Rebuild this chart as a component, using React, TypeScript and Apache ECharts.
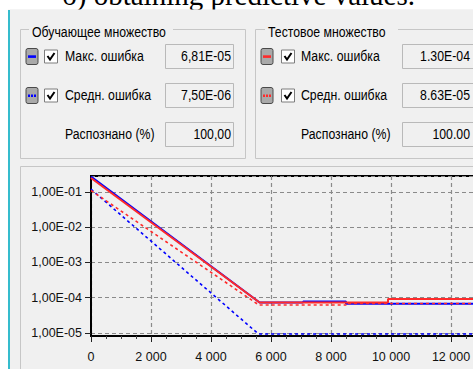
import React, { useEffect, useRef } from "react";
import * as echarts from "echarts";

// ---------- data ----------
const caption = "б) obtaining predictive values.";
const trainTitle = "Обучающее множество";
const testTitle = "Тестовое множество";
const rowLabels = ["Макс. ошибка", "Средн. ошибка", "Распознано (%)"];
const trainValues = ["6,81E-05", "7,50E-06", "100,00"];
const testValues = ["1.30E-04", "8.63E-05", "100.00"];

const xMin = 0;
const xMax = 13700;
const xInterval = 2000;
const yMin = Math.pow(10, -5.085);
const yMax = Math.pow(10, -0.547);

// [iteration, error]
const trainMaxError: [number, number][] = [
  [0, 0.275], [5620, 7.36e-5], [7070, 7.36e-5], [7070, 7.86e-5],
  [8500, 7.86e-5], [8500, 6.81e-5], [13700, 6.81e-5],
];
const trainMeanError: [number, number][] = [
  [0, 0.12], [5580, 9.4e-6], [13700, 9.4e-6],
];
const testMaxError: [number, number][] = [
  [0, 0.25], [5620, 7.36e-5], [9900, 7.36e-5], [9900, 9.2e-5], [13700, 9.2e-5],
];
const testMeanError: [number, number][] = [
  [0, 0.11], [5600, 6.2e-5], [8500, 6.2e-5], [8500, 6.9e-5], [13700, 6.9e-5],
];

const BLUE = "#0000ff";
const RED = "#ff2a2a";
const UI_FONT = "'Liberation Sans', Arial, sans-serif";
const BG = "#f0f0f0";
const SX = 0.82;

function txt(x: number, y: number, text: string, opts: any = {}) {
  const align = opts.align || "left";
  return {
    type: "text",
    x,
    y,
    scaleX: opts.scaleX ?? SX,
    z: opts.z ?? 5,
    style: {
      text,
      fill: opts.fill || "#000",
      fontSize: opts.fontSize || 15,
      fontFamily: opts.fontFamily || UI_FONT,
      align,
      textAlign: align,
      verticalAlign: "middle",
      textVerticalAlign: "middle",
    },
  };
}

function rect(x: number, y: number, w: number, h: number, style: any, z = 3, r = 0) {
  return { type: "rect", z, shape: { x, y, width: w, height: h, r }, style };
}

function icon(x: number, cy: number, color: string, dotted: boolean) {
  const els: any[] = [
    rect(x, cy - 8, 12, 16, { fill: "#a9a9a9", stroke: "#4a4a4a", lineWidth: 1 }, 4, 2),
  ];
  if (dotted) {
    [x + 2.5, x + 5.5, x + 8.5].forEach((dx) =>
      els.push(rect(dx - 0.5, cy - 1, 2, 2.5, { fill: color }, 5))
    );
  } else {
    els.push(rect(x + 2, cy - 1.2, 8, 2.6, { fill: color }, 5));
  }
  return els;
}

function checkbox(x: number, cy: number) {
  return [
    rect(x, cy - 6.5, 13, 13, { fill: "#ffffff", stroke: "#7d7d7d", lineWidth: 1 }, 4),
    {
      type: "polyline",
      z: 5,
      shape: { points: [[x + 3, cy - 0.5], [x + 5.5, cy + 3], [x + 10, cy - 3.5]] },
      style: { stroke: "#000", lineWidth: 2, fill: null },
    },
  ];
}

function groupBox(cfg: any) {
  const rows = [56.5, 95.5, 134.5];
  const els: any[] = [];
  els.push(rect(cfg.frameX, 29.5, cfg.frameW, 129, { fill: null, stroke: "#c6c6c6", lineWidth: 1 }, 2));
  els.push(rect(cfg.titleX - 3, 24, cfg.titleW + 6, 10, { fill: BG }, 3));
  els.push(txt(cfg.titleX, 32, cfg.title));
  rows.forEach((cy, i) => {
    if (i < 2) {
      els.push(...icon(cfg.iconX, cy, cfg.color, i === 1));
      els.push(...checkbox(cfg.checkX, cy));
    }
    els.push(txt(cfg.labelX, cy, rowLabels[i]));
    els.push(rect(cfg.boxX + 0.5, cy - 12, cfg.boxW, 24, { fill: BG, stroke: "#b9b9b9", lineWidth: 1 }, 3));
    els.push(txt(cfg.valueRight, cy, cfg.values[i], { align: "right" }));
  });
  return els;
}

function buildGraphics() {
  const els: any[] = [];
  els.push(rect(0, 0, 473, 9.5, { fill: "#ffffff" }, 0));
  els.push(rect(0, 0, 8, 369, { fill: "#ffffff" }, 0));
  els.push(rect(8, 10, 2, 359, { fill: "#35bccd" }, 1));
  els.push({
    type: "text",
    x: 62,
    y: -5,
    z: 1,
    style: {
      text: caption,
      fill: "#000",
      fontSize: 29,
      fontFamily: "'Liberation Serif', 'Times New Roman', serif",
      align: "left",
      textAlign: "left",
      verticalAlign: "middle",
      textVerticalAlign: "middle",
    },
  });
  els.push(rect(10, 9.5, 463, 12, { fill: BG }, 2));
  els.push(
    ...groupBox({
      frameX: 20.5, frameW: 225, titleX: 32, titleW: 138, title: trainTitle,
      iconX: 26, checkX: 44.5, labelX: 65, boxX: 165, boxW: 68, valueRight: 231,
      values: trainValues, color: BLUE,
    })
  );
  els.push(
    ...groupBox({
      frameX: 255.5, frameW: 240, titleX: 268, titleW: 127, title: testTitle,
      iconX: 261, checkX: 281.5, labelX: 301, boxX: 402, boxW: 72, valueRight: 470,
      values: testValues, color: RED,
    })
  );
  // chart panel frame
  els.push(rect(20.5, 166.5, 480, 230, { fill: null, stroke: "#c6c6c6", lineWidth: 1 }, 2));
  return els;
}

function fmtX(v: number) {
  return String(v).replace(/\B(?=(\d{3})+(?!\d))/g, " ");
}

function fmtY(v: number) {
  const l = Math.log10(v);
  const e = Math.round(l);
  if (Math.abs(l - e) > 0.01) return "";
  const sign = e < 0 ? "-" : "+";
  return "1,00E" + sign + String(Math.abs(e)).padStart(2, "0");
}

const gridLine = { show: true, lineStyle: { color: "#8a8a8a", type: [4, 3], width: 1.2 } };

export default function App() {
  const ref = useRef<HTMLDivElement>(null);
  useEffect(() => {
    if (!ref.current) return;
    const chart = echarts.init(ref.current, null, { renderer: "svg" });
    const lineSeries = (data: [number, number][], color: string, dashed: boolean, width: number) => ({
      type: "line",
      data,
      symbol: "none",
      showSymbol: false,
      lineStyle: { color, width, type: dashed ? [3, 3] : "solid" },
      z: 3,
    });
    chart.setOption({
      animation: false,
      backgroundColor: BG,
      textStyle: { fontFamily: UI_FONT },
      graphic: { elements: buildGraphics() },
      grid: {
        left: 91, top: 176, width: 411, height: 160,
        outerBoundsMode: "none",
        containLabel: false,
        show: true, borderColor: "#000", borderWidth: 2, backgroundColor: "transparent",
      },
      xAxis: {
        type: "value",
        min: xMin,
        max: xMax,
        interval: xInterval,
        axisLine: { show: true, lineStyle: { color: "#000", width: 2 } },
        axisTick: { show: true, length: 6, lineStyle: { color: "#222", width: 1 } },
        minorTick: { show: true, splitNumber: 4, length: 3, lineStyle: { color: "#444", width: 1 } },
        axisLabel: {
          margin: 14, fontSize: 12.5, color: "#111", fontFamily: UI_FONT,
          showMaxLabel: false, formatter: fmtX,
        },
        splitLine: gridLine,
      },
      yAxis: {
        type: "log",
        logBase: 10,
        min: yMin,
        max: yMax,
        axisLine: { show: true, lineStyle: { color: "#000", width: 2 } },
        axisTick: { show: true, length: 6, lineStyle: { color: "#222", width: 1 } },
        axisLabel: {
          margin: 9, fontSize: 12.5, color: "#111", fontFamily: UI_FONT,
          showMinLabel: false, showMaxLabel: false, formatter: fmtY,
        },
        splitLine: gridLine,
      },
      series: [
        lineSeries(trainMeanError, BLUE, true, 1.6),
        lineSeries(trainMaxError, BLUE, false, 2),
        lineSeries(testMaxError, RED, false, 2),
        lineSeries(testMeanError, RED, true, 1.6),
      ],
    });
    return () => chart.dispose();
  }, []);
  return (
    <div
      ref={ref}
      style={{ position: "fixed", left: 0, top: 0, width: 473, height: 369 }}
    />
  );
}
